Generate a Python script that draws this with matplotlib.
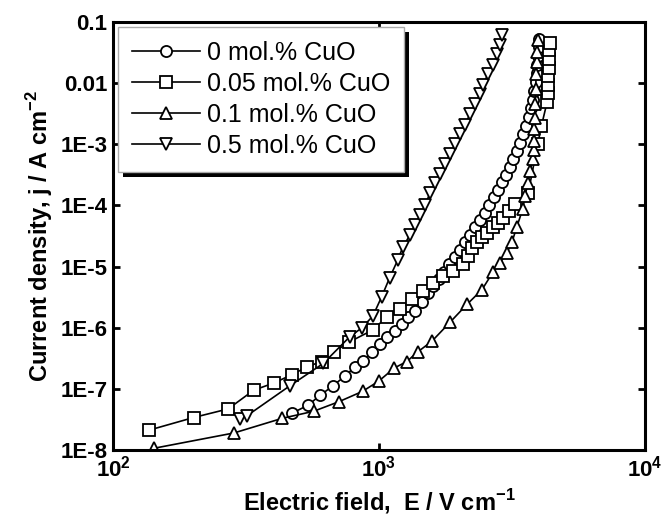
import matplotlib
matplotlib.use("Agg")
import matplotlib.pyplot as plt
from matplotlib.patches import Rectangle
from matplotlib.ticker import FixedLocator, FixedFormatter, NullLocator

plt.rcParams["font.family"] = ["Liberation Sans", "DejaVu Sans"]
plt.rcParams["mathtext.fontset"] = "custom"
plt.rcParams["mathtext.rm"] = "Liberation Sans"
plt.rcParams["mathtext.bf"] = "Liberation Sans:bold"

# 0 mol.% CuO
e_0 = [471, 541, 600, 671, 745, 813, 871, 942, 1009, 1072, 1148, 1219, 1285, 1365,
       1445, 1528, 1600, 1680, 1760, 1840, 1930, 2020, 2110, 2200, 2300, 2400, 2500,
       2600, 2700, 2800, 2900, 3000, 3100, 3200, 3300, 3400, 3490, 3580, 3660, 3730,
       3790, 3840, 3880, 3910, 3940, 3960, 3980, 3990]
j_0 = [4.0e-8, 5.4e-8, 7.8e-8, 1.12e-7, 1.62e-7, 2.3e-7, 2.9e-7, 4.0e-7, 5.4e-7, 7.1e-7,
       8.7e-7, 1.15e-6, 1.48e-6, 1.86e-6, 2.6e-6, 3.7e-6, 4.8e-6, 6.3e-6, 8.3e-6, 1.1e-5,
       1.45e-5, 1.9e-5, 2.5e-5, 3.3e-5, 4.4e-5, 5.8e-5, 7.6e-5, 1.0e-4, 1.35e-4, 1.8e-4,
       2.4e-4, 3.2e-4, 4.3e-4, 5.8e-4, 7.8e-4, 1.05e-3, 1.45e-3, 2.0e-3, 2.8e-3, 3.9e-3,
       5.4e-3, 7.5e-3, 1.05e-2, 1.45e-2, 2.0e-2, 2.8e-2, 3.9e-2, 5.3e-2]

# 0.05 mol.% CuO
e_005 = [136, 201, 271, 338, 403, 470, 537, 608, 677, 771, 948, 1069, 1198, 1327, 1464,
         1600, 1740, 1900, 2070, 2160, 2240, 2330, 2440, 2550, 2680, 2800, 2920, 3080,
         3240, 3640, 3950, 4080, 4290, 4300, 4320, 4330, 4340, 4350, 4370, 4390]
j_005 = [2.1e-8, 3.4e-8, 4.7e-8, 9.5e-8, 1.25e-7, 1.7e-7, 2.3e-7, 2.8e-7, 4.0e-7, 5.8e-7,
         9.2e-7, 1.5e-6, 2.05e-6, 2.9e-6, 4.0e-6, 5.3e-6, 6.9e-6, 8.6e-6, 1.1e-5, 1.5e-5,
         2.0e-5, 2.5e-5, 3.0e-5, 3.6e-5, 4.4e-5, 5.2e-5, 6.2e-5, 8.0e-5, 1.07e-4, 1.6e-4,
         1.0e-3, 2.0e-3, 5.0e-3, 6.8e-3, 9.5e-3, 1.3e-2, 1.8e-2, 2.5e-2, 3.5e-2, 4.5e-2]

# 0.1 mol.% CuO
e_01 = [143, 285, 433, 568, 709, 867, 996, 1143, 1273, 1396, 1580, 1850, 2140, 2440,
        2690, 2850, 3020, 3160, 3300, 3475, 3540, 3630, 3700, 3790, 3810, 3830, 3840,
        3850, 3860, 3880, 3900, 3920, 3940, 3960]
j_01 = [1.07e-8, 1.9e-8, 3.3e-8, 4.3e-8, 6.2e-8, 9.1e-8, 1.33e-7, 2.2e-7, 2.8e-7, 4.0e-7,
        6.0e-7, 1.23e-6, 2.4e-6, 4.2e-6, 8.3e-6, 1.15e-5, 1.66e-5, 2.5e-5, 4.5e-5, 8.9e-5,
        1.45e-4, 2.3e-4, 3.7e-4, 5.8e-4, 8.0e-4, 1.15e-3, 1.8e-3, 2.7e-3, 4.5e-3, 8.1e-3,
        1.4e-2, 2.2e-2, 3.2e-2, 5.0e-2]

# 0.5 mol.% CuO
e_05 = [300, 318, 462, 617, 776, 863, 948, 1023, 1097, 1178, 1230, 1308, 1366, 1426,
        1489, 1555, 1623, 1695, 1770, 1849, 1930, 2017, 2105, 2198, 2295, 2397, 2461,
        2570, 2684, 2782, 2840, 2900]
j_05 = [3.2e-8, 3.6e-8, 1.12e-7, 2.6e-7, 7.1e-7, 1.0e-6, 1.55e-6, 3.2e-6, 6.6e-6, 1.3e-5,
        2.1e-5, 3.3e-5, 4.8e-5, 6.9e-5, 1.0e-4, 1.6e-4, 2.3e-4, 3.3e-4, 4.8e-4, 6.9e-4,
        1.0e-3, 1.5e-3, 2.1e-3, 3.1e-3, 4.5e-3, 6.6e-3, 9.5e-3, 1.4e-2, 2.0e-2, 2.95e-2,
        4.2e-2, 6.2e-2]

labels = ["0 mol.% CuO", "0.05 mol.% CuO", "0.1 mol.% CuO", "0.5 mol.% CuO"]
markers = ["o", "s", "^", "v"]

x_ticks = [1e2, 1e3, 1e4]
x_ticklabels = [r"$\mathbf{10^{2}}$", r"$\mathbf{10^{3}}$", r"$\mathbf{10^{4}}$"]
y_ticks = [1e-8, 1e-7, 1e-6, 1e-5, 1e-4, 1e-3, 1e-2, 1e-1]
y_ticklabels = ["1E-8", "1E-7", "1E-6", "1E-5", "1E-4", "1E-3", "0.01", "0.1"]

fig = plt.figure(figsize=(6.62, 5.30), dpi=100)
ax = fig.add_axes([113 / 662, 1 - 450 / 530, 532 / 662, 428 / 530])

for xs, ys, m, lab in zip([e_0, e_005, e_01, e_05], [j_0, j_005, j_01, j_05], markers, labels):
    ax.plot(xs, ys, color="black", lw=1.2, marker=m, ms=8, mfc="white",
            mec="black", mew=1.3, label=lab)

ax.set_xscale("log")
ax.set_yscale("log")
ax.set_xlim(1e2, 1e4)
ax.set_ylim(1e-8, 1e-1)

ax.xaxis.set_major_locator(FixedLocator(x_ticks))
ax.xaxis.set_major_formatter(FixedFormatter(x_ticklabels))
ax.yaxis.set_major_locator(FixedLocator(y_ticks))
ax.yaxis.set_major_formatter(FixedFormatter(y_ticklabels))
ax.xaxis.set_minor_locator(NullLocator())
ax.yaxis.set_minor_locator(NullLocator())

ax.tick_params(which="major", direction="in", length=5, width=2,
               top=True, right=True, labelsize=16, pad=4)
for lbl in ax.get_yticklabels():
    lbl.set_fontweight("bold")
for s in ax.spines.values():
    s.set_linewidth(2.2)

ax.set_xlabel(r"Electric field,  E / V cm$^{\mathbf{-1}}$", fontsize=17, fontweight="bold", labelpad=4)
ax.set_ylabel(r"Current density, j / A cm$^{\mathbf{-2}}$", fontsize=17, fontweight="bold", labelpad=4)

leg = ax.legend(loc="upper left", bbox_to_anchor=(0.01, 0.988), borderaxespad=0,
                fontsize=18, handlelength=2.7, handletextpad=0.3, labelspacing=0.28,
                borderpad=0.55, fancybox=False, frameon=True, framealpha=1.0)
leg.get_frame().set_edgecolor("#aaaaaa")
leg.get_frame().set_linewidth(1.0)

# thick black drop shadow under the legend box
fig.canvas.draw()
bb = leg.get_window_extent().transformed(ax.transAxes.inverted())
dx = 5 / 532.0
dy = 5 / 428.0
ax.add_patch(Rectangle((bb.x0 + dx, bb.y0 - dy), bb.width, bb.height,
                       transform=ax.transAxes, facecolor="black", edgecolor="none",
                       zorder=4.9, clip_on=False))

fig.savefig("out.png", dpi=100)
